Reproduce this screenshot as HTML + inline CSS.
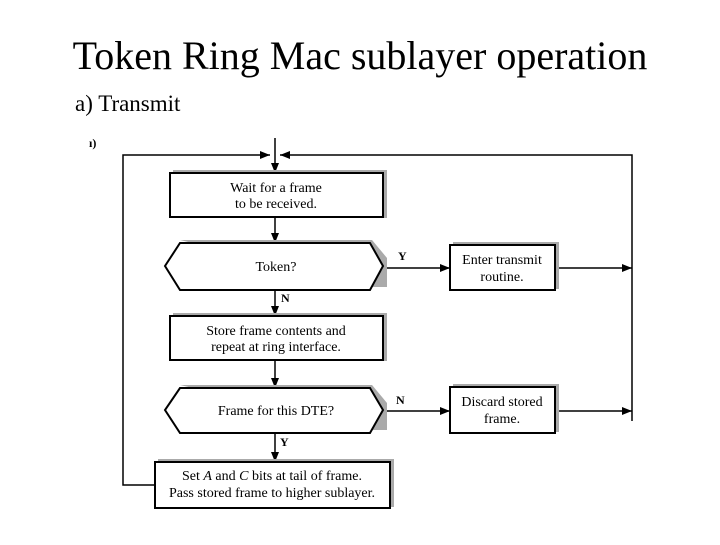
<!DOCTYPE html>
<html><head><style>
body{margin:0;width:720px;height:540px;background:#fff;overflow:hidden}
</style></head><body>
<svg width="720" height="540" xmlns="http://www.w3.org/2000/svg" font-family="Liberation Serif, serif">
<defs>
<marker id="a" markerWidth="10" markerHeight="8" refX="10" refY="4" orient="auto" markerUnits="userSpaceOnUse"><path d="M0,0 L10,4 L0,8 Z" fill="#000"/></marker>
</defs>
<text x="360" y="69" font-size="40" text-anchor="middle">Token Ring Mac sublayer operation</text>
<text x="75" y="111" font-size="23">a) Transmit</text>
<text x="89" y="147" font-size="12" font-weight="bold">ı)</text>
<g stroke="#000" stroke-width="1.5" fill="none">
<line x1="275" y1="138" x2="275" y2="173" marker-end="url(#a)"/>
<polyline points="155,485 123,485 123,155 270,155" marker-end="url(#a)"/>
<polyline points="632,421 632,155 280,155" marker-end="url(#a)"/>
<line x1="275" y1="217" x2="275" y2="243" marker-end="url(#a)"/>
<line x1="275" y1="290" x2="275" y2="316" marker-end="url(#a)"/>
<line x1="275" y1="360" x2="275" y2="388" marker-end="url(#a)"/>
<line x1="275" y1="433" x2="275" y2="462" marker-end="url(#a)"/>
<line x1="383" y1="268" x2="450" y2="268" marker-end="url(#a)"/>
<line x1="383" y1="411" x2="450" y2="411" marker-end="url(#a)"/>
<line x1="555" y1="268" x2="632" y2="268" marker-end="url(#a)"/>
<line x1="555" y1="411" x2="632" y2="411" marker-end="url(#a)"/>
</g>
<g fill="#aaa">
<rect x="173" y="170" width="214" height="48"/>
<polygon points="180,240 372,240 387,258 387,287 372,287"/>
<rect x="453" y="242" width="106" height="47"/>
<rect x="173" y="313" width="214" height="48"/>
<polygon points="180,385 372,385 387,403 387,430 372,430"/>
<rect x="453" y="384" width="106" height="48"/>
<rect x="158" y="459" width="236" height="48"/>
</g>
<g stroke="#000" stroke-width="2" fill="#fff">
<rect x="170" y="173" width="213" height="44"/>
<polygon points="180,243 370,243 383,266 370,290 180,290 165,266"/>
<rect x="450" y="245" width="105" height="45"/>
<rect x="170" y="316" width="213" height="44"/>
<polygon points="180,388 370,388 383,410 370,433 180,433 165,410"/>
<rect x="450" y="387" width="105" height="46"/>
<rect x="155" y="462" width="235" height="46"/>
</g>
<g font-size="14" text-anchor="middle">
<text x="276" y="192">Wait for a frame</text>
<text x="276" y="208">to be received.</text>
<text x="276" y="271">Token?</text>
<text x="502" y="264">Enter transmit</text>
<text x="502" y="281">routine.</text>
<text x="276" y="335">Store frame contents and</text>
<text x="276" y="351">repeat at ring interface.</text>
<text x="276" y="415">Frame for this DTE?</text>
<text x="502" y="406">Discard stored</text>
<text x="502" y="423">frame.</text>
<text x="272" y="480">Set <tspan font-style="italic">A</tspan> and <tspan font-style="italic">C</tspan> bits at tail of frame.</text>
<text x="272" y="497">Pass stored frame to higher sublayer.</text>
</g>
<g font-size="12" font-weight="bold">
<text x="398" y="260">Y</text>
<text x="281" y="302">N</text>
<text x="396" y="404">N</text>
<text x="280" y="446">Y</text>
</g>
</svg>
</body></html>
